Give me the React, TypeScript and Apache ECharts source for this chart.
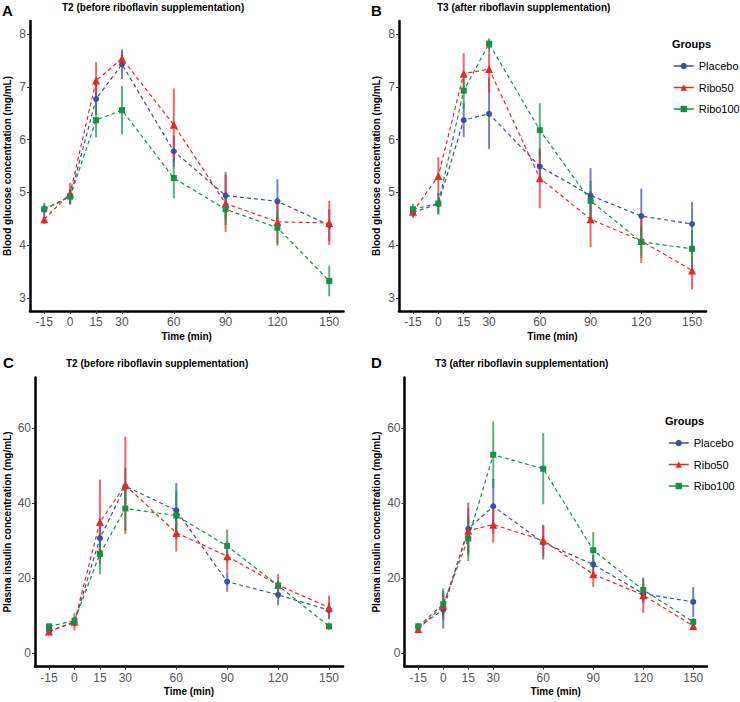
import React, { useEffect, useRef } from "react";
import * as echarts from "echarts";

const times = [-15, 0, 15, 30, 60, 90, 120, 150];
const groups = ["Placebo", "Ribo50", "Ribo100"];
const colors = ["#3B50A2", "#E8272B", "#16904A"];
const symbols = ["circle", "triangle", "rect"];
const symbolSizes = [6, 8, 6];

// Panel A: blood glucose, T2
const placeboA = [4.68, 4.92, 6.77, 7.43, 5.78, 4.94, 4.83, 4.38];
const placeboAErr = [0.12, 0.15, 0.3, 0.28, 0.3, 0.45, 0.42, 0.3];
const ribo50A = [4.49, 4.98, 7.12, 7.54, 6.28, 4.79, 4.44, 4.42];
const ribo50AErr = [0.09, 0.2, 0.35, 0.12, 0.69, 0.54, 0.45, 0.42];
const ribo100A = [4.68, 4.92, 6.37, 6.56, 5.27, 4.68, 4.33, 3.32];
const ribo100AErr = [0.08, 0.15, 0.33, 0.46, 0.38, 0.3, 0.3, 0.29];

// Panel B: blood glucose, T3
const placeboB = [4.62, 4.78, 6.37, 6.49, 5.49, 4.94, 4.55, 4.4];
const placeboBErr = [0.1, 0.2, 0.32, 0.67, 0.3, 0.52, 0.52, 0.42];
const ribo50B = [4.63, 5.31, 7.25, 7.34, 5.27, 4.49, 4.08, 3.52];
const ribo50BErr = [0.1, 0.36, 0.39, 0.45, 0.57, 0.53, 0.42, 0.36];
const ribo100B = [4.68, 4.79, 6.93, 7.82, 6.18, 4.84, 4.06, 3.93];
const ribo100BErr = [0.1, 0.2, 0.35, 0.1, 0.51, 0.38, 0.3, 0.35];

// Panel C: plasma insulin, T2
const placeboC = [6.0, 8.2, 30.7, 44.5, 38.1, 19.1, 15.6, 11.5];
const placeboCErr = [0.8, 1.0, 4.0, 5.0, 7.3, 2.7, 2.8, 2.0];
const ribo50C = [5.8, 8.4, 35.0, 44.8, 32.1, 25.9, 18.2, 12.2];
const ribo50CErr = [0.8, 2.3, 11.3, 13.0, 5.0, 4.0, 3.0, 3.2];
const ribo100C = [7.2, 8.7, 26.5, 38.6, 36.7, 28.6, 18.1, 7.2];
const ribo100CErr = [0.7, 1.0, 5.4, 6.0, 6.5, 4.4, 1.5, 1.0];

// Panel D: plasma insulin, T3
const placeboD = [7.1, 11.6, 33.2, 39.2, 29.5, 23.7, 15.9, 13.7];
const placeboDErr = [0.8, 5.0, 7.0, 7.3, 4.5, 2.5, 2.5, 4.0];
const ribo50D = [6.5, 12.7, 32.7, 34.3, 30.1, 21.1, 15.5, 7.3];
const ribo50DErr = [0.8, 3.2, 6.0, 4.8, 4.2, 3.4, 4.7, 1.0];
const ribo100D = [7.2, 13.1, 30.6, 52.9, 49.2, 27.5, 16.9, 8.4];
const ribo100DErr = [0.8, 4.2, 6.0, 8.9, 9.5, 4.8, 3.0, 1.1];

const glucoseTicks = [3, 4, 5, 6, 7, 8];
const insulinTicks = [0, 20, 40, 60];

const FONT = "Liberation Sans, Arial, Helvetica, sans-serif";

const panels = [
  {
    means: [placeboA, ribo50A, ribo100A],
    errs: [placeboAErr, ribo50AErr, ribo100AErr],
    grid: { left: 30, top: 21, width: 313.5, height: 290 },
    yMin: 2.75, yMax: 8.25, yTicks: glucoseTicks,
    yName: "Blood glucose concentration (mg/mL)", yGap: 18,
  },
  {
    means: [placeboB, ribo50B, ribo100B],
    errs: [placeboBErr, ribo50BErr, ribo100BErr],
    grid: { left: 399, top: 21, width: 307, height: 290 },
    yMin: 2.75, yMax: 8.25, yTicks: glucoseTicks,
    yName: "Blood glucose concentration (mg/mL)", yGap: 18,
  },
  {
    means: [placeboC, ribo50C, ribo100C],
    errs: [placeboCErr, ribo50CErr, ribo100CErr],
    grid: { left: 35, top: 377.5, width: 308, height: 289 },
    yMin: -3.5, yMax: 73.5, yTicks: insulinTicks,
    yName: "Plasma insulin concentration (mg/mL)", yGap: 23,
  },
  {
    means: [placeboD, ribo50D, ribo100D],
    errs: [placeboDErr, ribo50DErr, ribo100DErr],
    grid: { left: 404.5, top: 377.5, width: 302.5, height: 289 },
    yMin: -3.5, yMax: 73.5, yTicks: insulinTicks,
    yName: "Plasma insulin concentration (mg/mL)", yGap: 23,
  },
];

function buildOption() {
  const grids: any[] = [];
  const xAxes: any[] = [];
  const yAxes: any[] = [];
  const series: any[] = [];

  panels.forEach((p, pi) => {
    grids.push({ ...p.grid, containLabel: false });
    xAxes.push({
      type: "value",
      gridIndex: pi,
      min: -23.25,
      max: 158.25,
      name: "Time (min)",
      nameLocation: "middle",
      nameGap: 20,
      nameTextStyle: { fontFamily: FONT, fontWeight: "bold", fontSize: 10, color: "#000" },
      axisLine: { show: true, onZero: false, lineStyle: { color: "#000", width: 2.5 } },
      axisTick: { show: true, length: 3, lineStyle: { color: "#333", width: 1 }, customValues: times },
      axisLabel: { show: true, customValues: times, fontFamily: FONT, fontSize: 12, color: "#555", margin: 5 },
      splitLine: { show: false },
    });
    yAxes.push({
      type: "value",
      gridIndex: pi,
      min: p.yMin,
      max: p.yMax,
      name: p.yName,
      nameLocation: "middle",
      nameGap: p.yGap,
      nameRotate: 90,
      nameTextStyle: { fontFamily: FONT, fontWeight: "bold", fontSize: 10, color: "#000" },
      axisLine: { show: true, onZero: false, lineStyle: { color: "#000", width: 2.5 } },
      axisTick: { show: true, length: 3, lineStyle: { color: "#333", width: 1 }, customValues: p.yTicks },
      axisLabel: { show: true, customValues: p.yTicks, fontFamily: FONT, fontSize: 12, color: "#555", margin: 4 },
      splitLine: { show: false },
    });

    groups.forEach((g, gi) => {
      const color = colors[gi];
      const errData = times.map((t, i) => [t, p.means[gi][i] - p.errs[gi][i], p.means[gi][i] + p.errs[gi][i]]);
      series.push({
        type: "custom",
        name: g + " error",
        xAxisIndex: pi,
        yAxisIndex: pi,
        z: 2,
        encode: { x: 0, y: [1, 2] },
        data: errData,
        renderItem: (params: any, api: any) => {
          const x = api.value(0);
          const lo = api.coord([x, api.value(1)]);
          const hi = api.coord([x, api.value(2)]);
          return {
            type: "line",
            shape: { x1: lo[0], y1: lo[1], x2: hi[0], y2: hi[1] },
            style: { stroke: color, lineWidth: 2, opacity: 0.7 },
          };
        },
      });
      series.push({
        type: "line",
        name: g,
        xAxisIndex: pi,
        yAxisIndex: pi,
        z: 3,
        data: times.map((t, i) => [t, p.means[gi][i]]),
        symbol: symbols[gi],
        symbolSize: symbolSizes[gi],
        showAllSymbol: true,
        itemStyle: { color },
        lineStyle: { color, width: 1.2, type: [4, 3] },
      });
    });
  });

  const legendCommon = {
    orient: "vertical",
    data: groups,
    itemWidth: 20,
    itemHeight: 8,
    itemGap: 7.5,
    selectedMode: false,
    textStyle: { fontFamily: FONT, fontSize: 11, color: "#000", lineHeight: 14 },
    lineStyle: { type: "solid", width: 1.5 },
    padding: 0,
  };

  const label = (text: string, left: number, top: number) => ({
    type: "text",
    left,
    top,
    style: { text, font: `bold 15px ${FONT}`, fill: "#000" },
  });
  const title = (text: string, left: number, top: number) => ({
    type: "text",
    left,
    top,
    style: { text, font: `bold 10px ${FONT}`, fill: "#000" },
  });

  return {
    animation: false,
    backgroundColor: "#fff",
    grid: grids,
    xAxis: xAxes,
    yAxis: yAxes,
    series,
    legend: [
      { ...legendCommon, left: 673, top: 59 },
      { ...legendCommon, left: 668, top: 436 },
    ],
    graphic: [
      label("A", 2, 3),
      title("T2 (before riboflavin supplementation)", 62, 2),
      label("B", 371, 3),
      title("T3 (after riboflavin supplementation)", 437, 2),
      label("C", 3, 355),
      title("T2 (before riboflavin supplementation)", 66, 358),
      label("D", 371, 355),
      title("T3 (after riboflavin supplementation)", 435, 358),
      { type: "text", left: 672, top: 38, style: { text: "Groups", font: `bold 11px ${FONT}`, fill: "#000" } },
      { type: "text", left: 665, top: 415, style: { text: "Groups", font: `bold 11px ${FONT}`, fill: "#000" } },
    ],
  };
}

export default function App() {
  const ref = useRef<HTMLDivElement>(null);
  useEffect(() => {
    if (!ref.current) return;
    const chart = echarts.init(ref.current, undefined, { renderer: "svg" });
    chart.setOption(buildOption() as any);
    return () => chart.dispose();
  }, []);
  return (
    <div
      ref={ref}
      style={{ position: "absolute", left: 0, top: 0, width: 740, height: 702, background: "#fff" }}
    />
  );
}
